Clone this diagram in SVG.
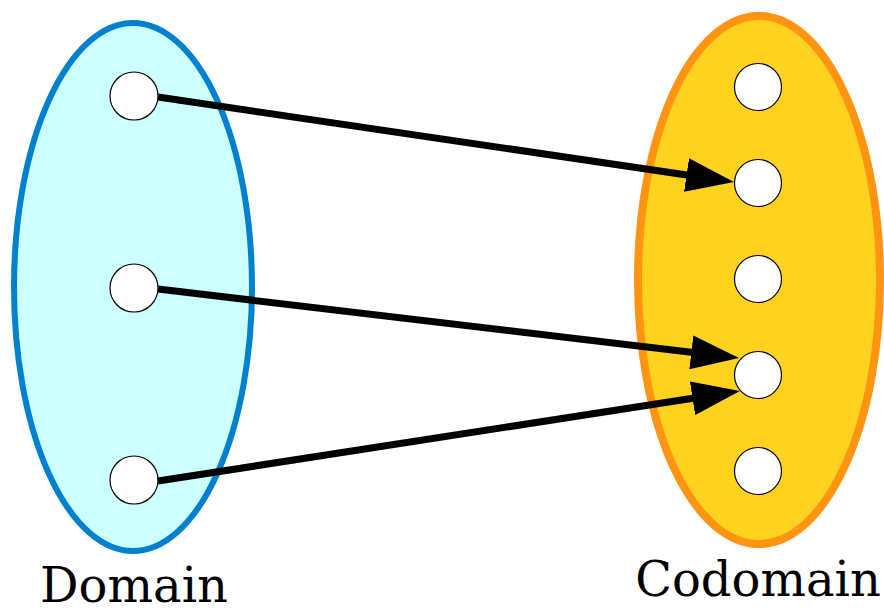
<svg xmlns="http://www.w3.org/2000/svg" width="884" height="610" viewBox="0 0 884 610">
  <style>
    .elem { fill: #ffffff; stroke: #000000; stroke-width: 1.2; }
    .edge { stroke: #000000; stroke-width: 7; fill: none; }
    .label { font-family: "DejaVu Serif", "Liberation Serif", serif; font-size: 48px; fill: #000000; text-anchor: middle; }
  </style>
  <defs>
    <!-- arrowhead: the line stops 2px inside the base so its butt end stays hidden -->
    <marker id="head" viewBox="0 0 48 34" refX="2" refY="17" markerWidth="48" markerHeight="34" markerUnits="userSpaceOnUse" orient="auto">
      <path d="M0,0 L48,17 L0,34 Z" fill="#000000"/>
    </marker>
  </defs>

  <g id="domain">
    <ellipse cx="133" cy="287" rx="119" ry="264" fill="#ccffff" stroke="#0081cf" stroke-width="6"/>
    <text class="label" x="134" y="602">Domain</text>
  </g>
  <g id="codomain">
    <ellipse cx="759" cy="280" rx="121" ry="264" fill="#ffd21f" stroke="#ff9410" stroke-width="8"/>
    <text class="label" x="758" y="596">Codomain</text>
  </g>

  <g id="x1"><circle class="elem" cx="134" cy="96" r="24"/></g>
  <g id="x2"><circle class="elem" cx="134" cy="288" r="24"/></g>
  <g id="x3"><circle class="elem" cx="134" cy="480" r="24"/></g>

  <g id="y1"><circle class="elem" cx="758" cy="87" r="23.5"/></g>
  <g id="y2"><circle class="elem" cx="758" cy="183" r="23.5"/></g>
  <g id="y3"><circle class="elem" cx="758" cy="279" r="23.5"/></g>
  <g id="y4"><circle class="elem" cx="758" cy="375" r="23.5"/></g>
  <g id="y5"><circle class="elem" cx="758" cy="471" r="23.5"/></g>

  <g id="connectors">
    <line class="edge" x1="158" y1="97" x2="688.5" y2="175.3" marker-end="url(#head)"/>
    <line class="edge" x1="158" y1="289" x2="693.3" y2="352.6" marker-end="url(#head)"/>
    <line class="edge" x1="158" y1="481" x2="694.5" y2="398" marker-end="url(#head)"/>
  </g>
</svg>
